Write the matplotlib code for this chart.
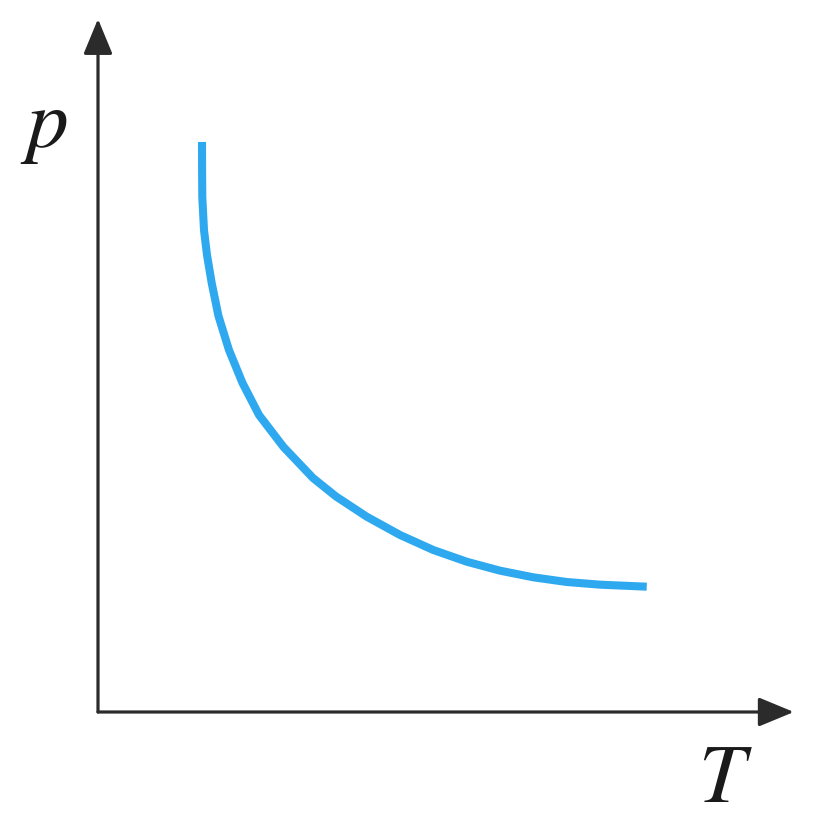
import matplotlib
matplotlib.use("Agg")
import matplotlib.pyplot as plt

plt.rcParams["mathtext.fontset"] = "stix"

# curve (T, p in arbitrary units)
T_vals = [1.486, 1.487, 1.490, 1.514, 1.557, 1.624, 1.721, 1.871, 2.064, 2.300, 2.650,
          3.071, 3.400, 3.839, 4.314, 4.790, 5.267, 5.743, 6.219, 6.696, 7.171, 7.839]
p_vals = [8.143, 7.743, 7.357, 6.886, 6.529, 6.129, 5.657, 5.171, 4.700, 4.243, 3.786,
          3.343, 3.079, 2.790, 2.529, 2.314, 2.147, 2.019, 1.924, 1.857, 1.819, 1.790]

x_label = "$T$"
y_label = "$p$"
curve_color = "#2ea9ef"
axis_color = "#2b2b2b"

fig = plt.figure(figsize=(8.16, 8.24), dpi=100)
ax = fig.add_axes([0, 0, 1, 1])
ax.set_xlim(-1.4, 10.257)
ax.set_ylim(-1.6, 10.171)
ax.axis("off")

# axes with arrow heads
arrow = dict(arrowstyle="-|>,head_length=1.45,head_width=0.6", color=axis_color,
             lw=2.3, mutation_scale=15, shrinkA=0, shrinkB=0)
ax.annotate("", xy=(0, 9.9), xytext=(0, 0), arrowprops=arrow)
ax.annotate("", xy=(9.94, 0), xytext=(0, 0), arrowprops=arrow)

ax.plot(T_vals, p_vals, color=curve_color, lw=5.8, solid_capstyle="butt",
        solid_joinstyle="round")

ax.text(-0.77, 8.38, y_label, fontsize=60, ha="center", va="center", color="#1a1a1a")
ax.text(8.96, -0.95, x_label, fontsize=60, ha="center", va="center", color="#1a1a1a")

fig.savefig("out.png", dpi=100, facecolor="white")
